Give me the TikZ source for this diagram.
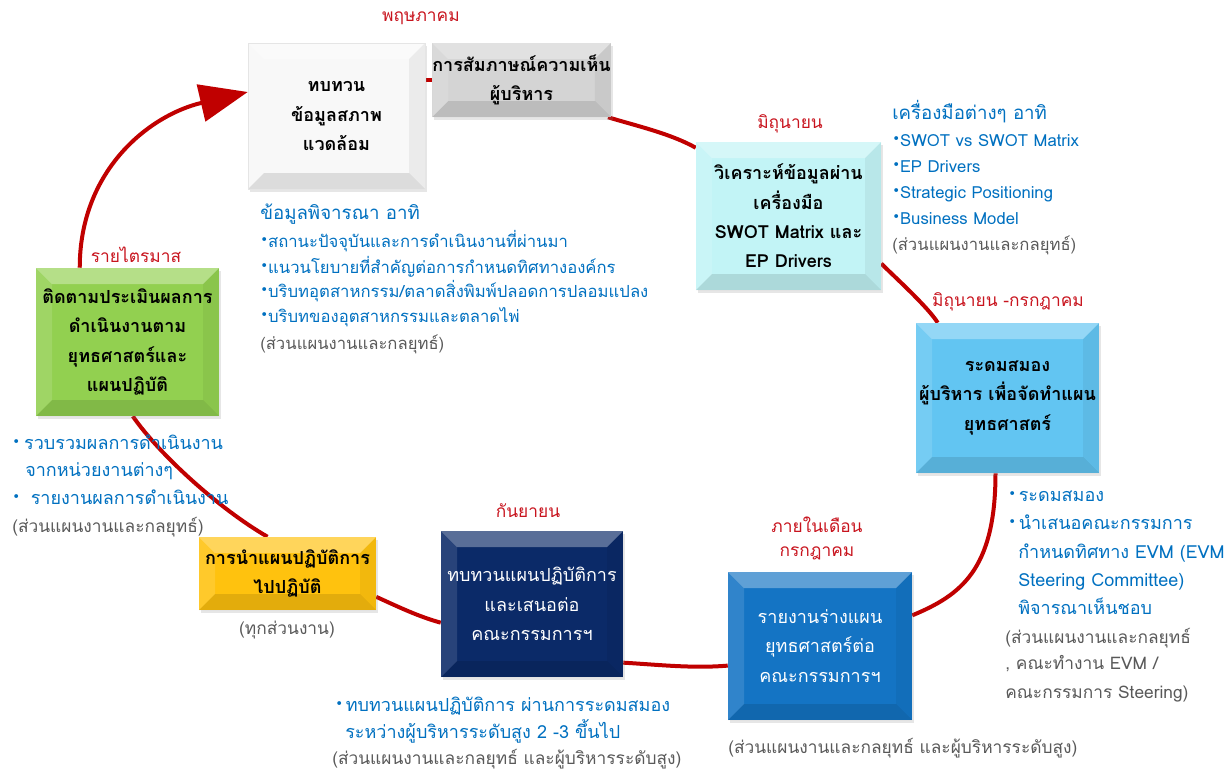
\documentclass[tikz,border=0pt]{standalone}
\usepackage{fontspec}
\setmainfont[Script=Thai]{Loma}
\newfontfamily\bulletfont{DejaVu Sans}
\usetikzlibrary{arrows.meta,shadows,backgrounds}

\definecolor{loopred}{HTML}{C00000}
\definecolor{monthred}{HTML}{C8141E}
\definecolor{noteblue}{HTML}{0070C0}
\definecolor{notegrey}{HTML}{595959}
\definecolor{fillwhite}{HTML}{F8F8F8}
\definecolor{fillgrey}{HTML}{D4D4D4}
\definecolor{fillcyan}{HTML}{C2F4F6}
\definecolor{fillsky}{HTML}{62C5F2}
\definecolor{fillblue}{HTML}{1474C4}
\definecolor{fillnavy}{HTML}{0B2A68}
\definecolor{fillgold}{HTML}{FFC20E}
\definecolor{fillgreen}{HTML}{92D050}

\newcommand{\bul}{{\bulletfont\raisebox{2pt}{\fontsize{10}{10}\selectfont •}}}

\tikzset{
  bevelbox/.style={
    rectangle, inner sep=0pt, align=center,
    font=\fontsize{13.5}{22}\selectfont\bfseries,
    drop shadow={shadow xshift=1.5pt,shadow yshift=-2.5pt,opacity=0.2},
    path picture={
      \fill[white,opacity=0.32] (path picture bounding box.north west) -- (path picture bounding box.north east)
        -- ([shift={(-12pt,-12pt)}]path picture bounding box.north east) -- ([shift={(12pt,-12pt)}]path picture bounding box.north west) -- cycle;
      \fill[white,opacity=0.12] (path picture bounding box.north west) -- ([shift={(12pt,-12pt)}]path picture bounding box.north west)
        -- ([shift={(12pt,12pt)}]path picture bounding box.south west) -- (path picture bounding box.south west) -- cycle;
      \fill[black,opacity=0.05] (path picture bounding box.north east) -- ([shift={(-12pt,-12pt)}]path picture bounding box.north east)
        -- ([shift={(-12pt,12pt)}]path picture bounding box.south east) -- (path picture bounding box.south east) -- cycle;
      \fill[black,opacity=0.11] (path picture bounding box.south west) -- ([shift={(12pt,12pt)}]path picture bounding box.south west)
        -- ([shift={(-12pt,12pt)}]path picture bounding box.south east) -- (path picture bounding box.south east) -- cycle;
    }
  },
  month/.style={text=monthred, font=\fontsize{13}{16}\selectfont, inner sep=0pt},
  note/.style={text=noteblue, font=\fontsize{12.5}{16}\selectfont, anchor=base west, inner sep=0pt},
  bignote/.style={text=noteblue, font=\fontsize{13.5}{16}\selectfont, anchor=base west, inner sep=0pt},
  notehead/.style={text=noteblue, font=\fontsize{14}{16}\selectfont, anchor=base west, inner sep=0pt},
  owner/.style={text=notegrey, font=\fontsize{12.5}{16}\selectfont, anchor=base west, inner sep=0pt},
  bigowner/.style={text=notegrey, font=\fontsize{13}{16}\selectfont, anchor=base west, inner sep=0pt},
  loop/.style={draw=loopred, line width=3pt},
}

\begin{document}
\begin{tikzpicture}[x=0.75pt,y=-0.75pt]
\useasboundingbox (0,0) rectangle (1229,776);

% the eight steps of the planning cycle
\node[bevelbox, fill=fillwhite, draw=black!10, minimum width=177*0.75pt, minimum height=146*0.75pt] (b1) at (336.5,116)
  {ทบทวน\\ข้อมูลสภาพ\\แวดล้อม};
\node[bevelbox, fill=fillgrey, minimum width=177*0.75pt, minimum height=74*0.75pt] (b2) at (521.5,80)
  {การสัมภาษณ์ความเห็น\\ผู้บริหาร};
\node[bevelbox, fill=fillcyan, minimum width=185*0.75pt, minimum height=148*0.75pt] (b3) at (788.5,216)
  {วิเคราะห์ข้อมูลผ่าน\\เครื่องมือ\\SWOT Matrix และ\\EP Drivers};
\node[bevelbox, fill=fillsky, minimum width=183*0.75pt, minimum height=150*0.75pt] (b4) at (1007.5,398)
  {ระดมสมอง\\ผู้บริหาร เพื่อจัดทำแผน\\ยุทธศาสตร์};
\node[bevelbox, fill=fillblue, text=white, minimum width=184*0.75pt, minimum height=148*0.75pt] (b5) at (820,646)
  {\mdseries รายงานร่างแผน\\\mdseries ยุทธศาสตร์ต่อ\\\mdseries คณะกรรมการฯ};
\node[bevelbox, fill=fillnavy, text=white, minimum width=182*0.75pt, minimum height=146*0.75pt] (b6) at (532,604)
  {\mdseries ทบทวนแผนปฏิบัติการ\\\mdseries และเสนอต่อ\\\mdseries คณะกรรมการฯ};
\node[bevelbox, fill=fillgold, minimum width=177*0.75pt, minimum height=73*0.75pt] (b7) at (287.5,573.5)
  {การนำแผนปฏิบัติการ\\ไปปฏิบัติ};
\node[bevelbox, fill=fillgreen, minimum width=183*0.75pt, minimum height=148*0.75pt] (b8) at (127.5,342)
  {ติดตามประเมินผลการ\\ดำเนินงานตาม\\ยุทธศาสตร์และ\\แผนปฏิบัติ};

% the red loop running behind the steps
\begin{scope}[on background layer]
\draw[loop, -{Triangle[length=36pt,width=28pt]}] ([xshift=33pt]b8.north west) .. controls +(0,-98) and +(-98,23) .. ([yshift=18pt]b1.west);
\draw[loop] (b1.east |- b2.west) -- (b2.west);
\draw[loop] ([xshift=-2.25pt]b2.south east) .. controls +(30,9) and +(-25,-14) .. ([yshift=-4.5pt]b3.north west);
\draw[loop] ([yshift=20pt]b3.south east) .. controls +(12,12) and +(-10,-16) .. ([xshift=16.5pt]b4.north west);
\draw[loop] ([xshift=-9pt]b4.south) .. controls +(0,97) and +(48,-20) .. ([yshift=23pt]b5.east);
\draw[loop] ([yshift=41pt]b5.south west) .. controls +(-35,3) and +(35,2) .. ([yshift=-44pt]b6.east);
\draw[loop] ([yshift=-14pt]b6.west) .. controls +(-22,-6) and +(22,10) .. ([yshift=-17.5pt]b7.east);
\draw[loop] ([xshift=-15pt]b7.north) .. controls +(-47,-27) and +(27,39) .. ([xshift=4pt]b8.south);
\end{scope}

% timing of each step
\node[month] (m1) at (421,18) {พฤษภาคม};
\node[month] (m2) at (790,124) {มิถุนายน};
\node[month] (m3) at (1008,302) {มิถุนายน -กรกฎาคม};
\node[month] (m4) at (817,525) {ภายในเดือน};
\node[month] (m5) at (817,553) {กรกฎาคม};
\node[month] (m6) at (528,511) {กันยายน};
\node[month] (m7) at (136,255) {รายไตรมาส};

% notes on the environment review
\node[notehead] (n1h) at (260,219) {ข้อมูลพิจารณา อาทิ};
\node[note] (n1a) at (260,247) {\bul สถานะปัจจุบันและการดำเนินงานที่ผ่านมา};
\node[note] (n1b) at (260,273) {\bul แนวนโยบายที่สำคัญต่อการกำหนดทิศทางองค์กร};
\node[note] (n1c) at (260,297) {\bul บริบทอุตสาหกรรม/ตลาดสิ่งพิมพ์ปลอดการปลอมแปลง};
\node[note] (n1d) at (260,322) {\bul บริบทของอุตสาหกรรมและตลาดไพ่};
\node[owner] (n1o) at (260,349) {(ส่วนแผนงานและกลยุทธ์)};

% notes on the analysis tools
\node[notehead] (n2h) at (892,119) {เครื่องมือต่างๆ อาทิ};
\node[note] (n2a) at (892,146) {\bul SWOT vs SWOT Matrix};
\node[note] (n2b) at (892,172) {\bul EP Drivers};
\node[note] (n2c) at (892,198) {\bul Strategic Positioning};
\node[note] (n2d) at (892,224) {\bul Business Model};
\node[owner] (n2o) at (892,250) {(ส่วนแผนงานและกลยุทธ์)};

% notes on the brainstorming step
\node[bignote] (n3a) at (1008,501) {\bul\hspace{2pt}ระดมสมอง};
\node[bignote] (n3b) at (1008,529) {\bul\hspace{2pt}นำเสนอคณะกรรมการ};
\node[bignote] (n3c) at (1018,558) {กำหนดทิศทาง EVM (EVM};
\node[bignote] (n3d) at (1018,586) {Steering Committee)};
\node[bignote] (n3e) at (1018,614) {พิจารณาเห็นชอบ};
\node[bigowner] (n3o1) at (1005,643) {(ส่วนแผนงานและกลยุทธ์};
\node[bigowner] (n3o2) at (1005,669) {, คณะทำงาน EVM /};
\node[bigowner] (n3o3) at (1005,698) {คณะกรรมการ Steering)};

% notes on the draft report and the review
\node[bigowner] (n4o) at (728,753) {(ส่วนแผนงานและกลยุทธ์ และผู้บริหารระดับสูง)};
\node[bignote] (n5a) at (335,711) {\bul\hspace{2pt}ทบทวนแผนปฏิบัติการ ผ่านการระดมสมอง};
\node[bignote] (n5b) at (345,738) {ระหว่างผู้บริหารระดับสูง 2 -3 ขึ้นไป};
\node[bigowner] (n5o) at (332,764) {(ส่วนแผนงานและกลยุทธ์ และผู้บริหารระดับสูง)};

% notes on implementation and follow-up
\node[bigowner, anchor=center] (n6o) at (287,630) {(ทุกส่วนงาน)};
\node[bignote] (n7a) at (12,449) {\bul\hspace{3pt}รวบรวมผลการดำเนินงาน};
\node[bignote] (n7b) at (25,476) {จากหน่วยงานต่างๆ};
\node[bignote] (n7c) at (12,504) {\bul\hspace{8pt}รายงานผลการดำเนินงาน};
\node[bigowner] (n7o) at (12,532) {(ส่วนแผนงานและกลยุทธ์)};
\end{tikzpicture}
\end{document}
